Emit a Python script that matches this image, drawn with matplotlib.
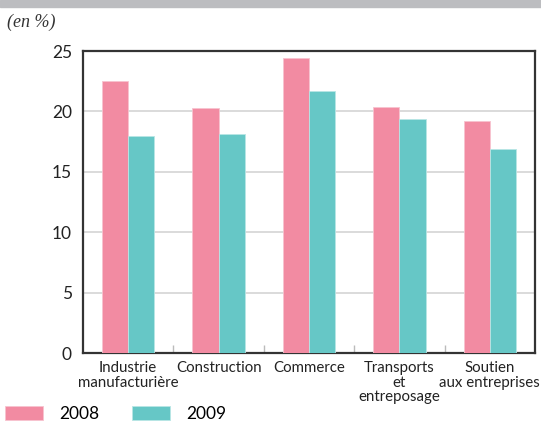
import matplotlib.pyplot as plt
import numpy as np
from matplotlib.patches import Rectangle

categories = ['Industrie\nmanufacturière', 'Construction', 'Commerce',
              'Transports\net\nentreposage', 'Soutien\naux entreprises']
values_2008 = [22.5, 20.3, 24.4, 20.4, 19.2]
values_2009 = [18.0, 18.1, 21.7, 19.4, 16.9]
years = ['2008', '2009']

pink = '#f28ba2'
teal = '#66c7c6'

plt.rcParams['font.family'] = ['Lato', 'DejaVu Sans']

fig = plt.figure(figsize=(5.41, 4.32), dpi=100)
fig.patches.append(Rectangle((0, 1 - 7 / 432), 1, 7 / 432, transform=fig.transFigure,
                             color='#bcbdc0', zorder=0))
fig.text(7 / 541, 1 - 22 / 432, '(en %)', fontsize=13, style='italic',
         family='Liberation Serif', color='#333333', va='center')

ax = fig.add_axes([83 / 541, 79 / 432, 452 / 541, 302 / 432])

x = np.arange(len(categories))
w = 0.29
ax.bar(x - w / 2, values_2008, w, color=pink, edgecolor='#f7c3cf', linewidth=0.6,
       label=years[0], zorder=3)
ax.bar(x + w / 2, values_2009, w, color=teal, edgecolor='#b9e6e5', linewidth=0.6,
       label=years[1], zorder=3)

ax.set_xlim(-0.5, len(categories) - 0.5)
ax.set_ylim(0, 25)
ax.set_yticks([0, 5, 10, 15, 20, 25])
ax.yaxis.grid(True, color='#d4d4d4', linewidth=1.2, zorder=0)
ax.tick_params(axis='y', length=0, labelsize=12.5, pad=8, colors='#222222')

# category labels and small separating ticks
ax.set_xticks(x)
ax.set_xticklabels(categories, fontsize=10.8, linespacing=1.05, color='#222222')
ax.tick_params(axis='x', length=0, pad=6)
ax.set_xticks(np.arange(len(categories) - 1) + 0.5, minor=True)
ax.tick_params(axis='x', which='minor', direction='in', length=6, color='#bbbbbb', width=1)

for s in ax.spines.values():
    s.set_color('#333333')
    s.set_linewidth(1.6)

fig.legend(loc='lower left', bbox_to_anchor=(5 / 541, 10 / 432), ncol=2, frameon=False,
           fontsize=12.5, handlelength=2.2, handleheight=0.9, columnspacing=1.9,
           handletextpad=0.9, borderpad=0, borderaxespad=0)

fig.savefig('out.png', dpi=100)
